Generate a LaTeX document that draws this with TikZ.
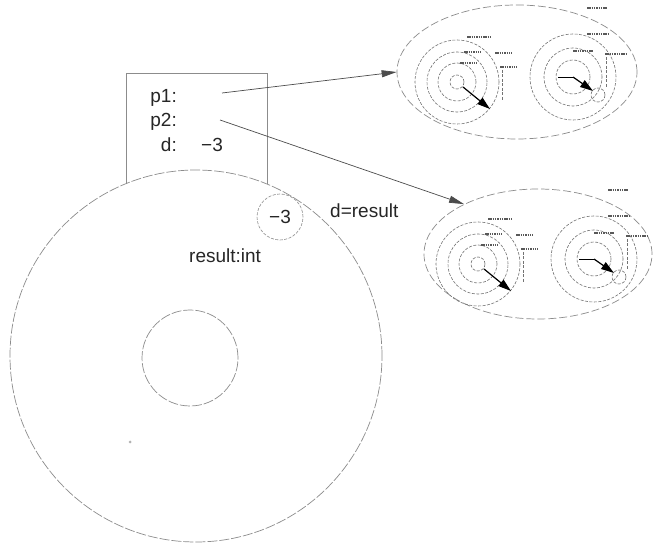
\documentclass[tikz,border=0pt]{standalone}
\usepackage{fontspec}
\setmainfont{Liberation Sans}
\usetikzlibrary{arrows.meta,shapes.geometric}

\tikzset{
  frameline/.style={draw=black!45, line width=0.7pt},
  dashline/.style={draw=black!45, line width=0.7pt, dash pattern=on 10pt off 2pt},
  thumbline/.style={draw=black!55, line width=0.6pt, dash pattern=on 3pt off 1.5pt},
  ptr/.style={draw=black!70, line width=0.7pt, -{Triangle[length=15pt,width=7pt]}},
  thumbptr/.style={draw=black, line width=1.2pt, -{Triangle[length=13pt,width=8pt]}},
  lbl/.style={font=\fontsize{19}{21}\selectfont, text=black!85, inner sep=0pt},
  mark line/.style={draw=black!65, line width=1.6pt, dash pattern=on 1.5pt off 0.8pt},
}

% miniature of an object pair, drawn round the centre of an ellipse node
\newcommand{\objthumb}[1]{%
  \begin{scope}[shift={(#1)}]
    % left object
    \begin{scope}[shift={(-60,10)}]
      \foreach \r in {42,30,19,7}
        \draw[thumbline] (0,0) circle [radius=\r pt];
      \draw[thumbptr] (6,5) -- (33,27);
      \draw[mark line] (10,-45) -- (34,-45);
      \draw[mark line] (7,-30) -- (24,-30);
      \draw[mark line] (38,-29) -- (55,-29);
      \draw[mark line] (3,-19) -- (20,-19);
      \draw[mark line] (43,-15) -- (60,-15);
      \draw[thumbline] (45,-12) -- (45,18);
    \end{scope}
    % right object
    \begin{scope}[shift={(56,5)}]
      \foreach \r in {43,29,17}
        \draw[thumbline] (0,0) circle [radius=\r pt];
      \draw[thumbline] (25,18) circle [radius=7pt];
      \draw[black, line width=0.8pt] (-15,0) -- (0,0);
      \draw[thumbptr] (0,0) -- (20,14);
      \draw[mark line] (14,-43) -- (36,-43);
      \draw[mark line] (0,-26) -- (20,-26);
      \draw[mark line] (32,-23) -- (54,-23);
      \draw[thumbline] (33,-20) -- (33,10);
    \end{scope}
    \draw[mark line] (70,-64) -- (90,-64);
  \end{scope}}

\begin{document}
\begin{tikzpicture}[x=1pt,y=-1pt]
  \useasboundingbox (0,0) rectangle (657,548);
  \fill[white] (0,0) rectangle (657,548);

  % stack frame of main
  \draw[frameline] (126,184) -- (126,73) -- (267,73) -- (267,184);
  \node[lbl, anchor=base east] (p1) at (177,103) {p1:};
  \node[lbl, anchor=base east] (p2) at (177,127) {p2:};
  \node[lbl, anchor=base east] (d) at (177,152) {d:};
  \node[lbl, anchor=base west] (dval) at (201,152) {−3};
  \coordinate (p1ptr) at (222,93);
  \coordinate (p2ptr) at (220,120);

  % frame of the called method
  \node[circle, dashline, minimum size=372pt] (callframe) at (196,356) {};
  \node[circle, dashline, minimum size=96pt] (inner) at (190,358) {};
  \fill[black!30] (130,442) circle [radius=1.5pt];
  \node[circle, thumbline, draw=black!45, minimum size=46pt, lbl] (res) at (280,217) {−3};
  \node[lbl, anchor=base west] (restype) at (189,263) {result:int};
  \node[lbl, anchor=base west] (assign) at (330,218) {d=result};

  % the two point objects
  \node[ellipse, dashline, dash pattern=on 8pt off 3pt, minimum width=240pt, minimum height=134pt] (topobj) at (517,72) {};
  \node[ellipse, dashline, dash pattern=on 8pt off 3pt, minimum width=228pt, minimum height=130pt] (botobj) at (538,254) {};
  \objthumb{topobj.center}
  \objthumb{botobj.center}

  \draw[ptr] (p1ptr) -- (topobj.west);
  \draw[ptr] (p2ptr) -- (botobj.146);
\end{tikzpicture}
\end{document}
